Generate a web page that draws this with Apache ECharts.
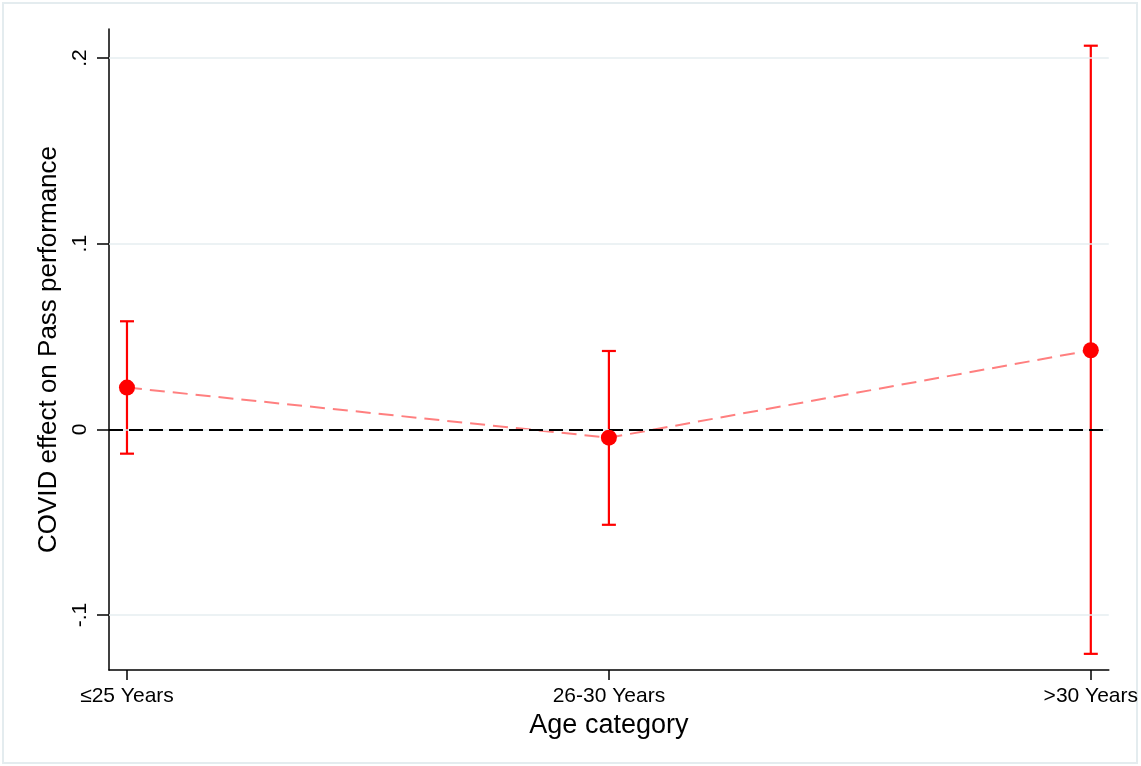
<!DOCTYPE html>
<html>
<head>
<meta charset="utf-8">
<script src="https://cdn.jsdelivr.net/npm/echarts@6/dist/echarts.min.js"></script>
<style>
  html, body { margin: 0; padding: 0; background: #ffffff; }
  #chart { width: 1141px; height: 766px; }
</style>
</head>
<body>
<div id="chart"></div>
<script>
// Age groups on the x axis
const categories = ['≤25 Years', '26-30 Years', '>30 Years'];
// Point estimates and 95% confidence bounds
const estimates = [0.0225, -0.0045, 0.0426];
const ciLower = [-0.0131, -0.0514, -0.1209];
const ciUpper = [0.0582, 0.0422, 0.2066];
// Y axis ticks and their labels
const yTicks = [-0.1, 0, 0.1, 0.2];
const yTickLabels = ['-.1', '0', '.1', '.2'];

const FONT = "'Liberation Sans', Arial, sans-serif";
const xIdx = categories.map((c, i) => i);

const pointData = estimates.map((v, i) => [i, v]);
const barData = estimates.map((v, i) => [i, ciLower[i], ciUpper[i]]);

const chart = echarts.init(document.getElementById('chart'), null, { renderer: 'canvas' });

chart.setOption({
  backgroundColor: '#ffffff',
  animation: false,
  graphic: [{
    type: 'rect',
    shape: { x: 3, y: 3, width: 1134, height: 760 },
    style: { fill: 'none', stroke: '#e4ecef', lineWidth: 2 },
    silent: true,
    z: -10
  }],
  grid: { left: 109, right: 32, top: 29, bottom: 96, containLabel: false },
  xAxis: {
    type: 'value',
    min: -0.0373,
    max: 2.0373,
    name: 'Age category',
    nameLocation: 'middle',
    nameGap: 40,
    nameTextStyle: { fontFamily: FONT, fontSize: 27, color: '#000' },
    axisLine: { show: true, onZero: false, lineStyle: { color: '#000', width: 1.5 } },
    axisTick: { show: true, length: 10, customValues: xIdx, lineStyle: { color: '#000', width: 1.5 } },
    axisLabel: {
      customValues: xIdx,
      margin: 16,
      fontFamily: FONT,
      fontSize: 21,
      color: '#000',
      formatter: v => categories[Math.round(v)]
    },
    splitLine: { show: false }
  },
  yAxis: {
    type: 'value',
    min: -0.1296,
    max: 0.2156,
    name: 'COVID effect on Pass performance',
    nameLocation: 'middle',
    nameGap: 38,
    nameTextStyle: { fontFamily: FONT, fontSize: 26, color: '#000' },
    axisLine: { show: true, onZero: false, lineStyle: { color: '#000', width: 1.5 } },
    axisTick: { show: true, length: 12, customValues: yTicks, lineStyle: { color: '#000', width: 1.5 } },
    axisLabel: {
      customValues: yTicks,
      rotate: 90,
      margin: 18,
      fontFamily: FONT,
      fontSize: 21,
      color: '#000',
      formatter: v => {
        const k = yTicks.findIndex(t => Math.abs(t - v) < 1e-9);
        return k >= 0 ? yTickLabels[k] : '';
      }
    },
    splitLine: { show: false }
  },
  series: [
    {
      // horizontal grid lines at each labelled tick
      type: 'line',
      data: [],
      silent: true,
      z: 1,
      markLine: {
        silent: true,
        symbol: 'none',
        label: { show: false },
        lineStyle: { color: '#e6eef1', width: 1.5, type: 'solid' },
        data: yTicks.map(t => ({ yAxis: t }))
      }
    },
    {
      // reference line at zero
      type: 'line',
      data: [],
      silent: true,
      z: 2,
      markLine: {
        silent: true,
        symbol: 'none',
        label: { show: false },
        lineStyle: { color: '#000', width: 2, type: [14, 6] },
        data: [{ yAxis: 0 }]
      }
    },
    {
      // dashed connector between estimates
      type: 'line',
      data: pointData,
      symbol: 'none',
      z: 3,
      lineStyle: { color: 'rgba(255,0,0,0.5)', width: 2, type: [15, 8] }
    },
    {
      // confidence interval whiskers with caps
      type: 'custom',
      data: barData,
      z: 4,
      renderItem: (params, api) => {
        const x = api.value(0);
        const lo = api.coord([x, api.value(1)]);
        const hi = api.coord([x, api.value(2)]);
        const cap = 7;
        const style = { stroke: '#ff0000', lineWidth: 2.2 };
        return {
          type: 'group',
          children: [
            { type: 'line', shape: { x1: lo[0], y1: lo[1], x2: hi[0], y2: hi[1] }, style },
            { type: 'line', shape: { x1: lo[0] - cap, y1: lo[1], x2: lo[0] + cap, y2: lo[1] }, style },
            { type: 'line', shape: { x1: hi[0] - cap, y1: hi[1], x2: hi[0] + cap, y2: hi[1] }, style }
          ]
        };
      }
    },
    {
      // point estimates
      type: 'scatter',
      data: pointData,
      symbol: 'circle',
      symbolSize: 16,
      z: 5,
      itemStyle: { color: '#ff0000', opacity: 1 }
    }
  ]
});
</script>
</body>
</html>
